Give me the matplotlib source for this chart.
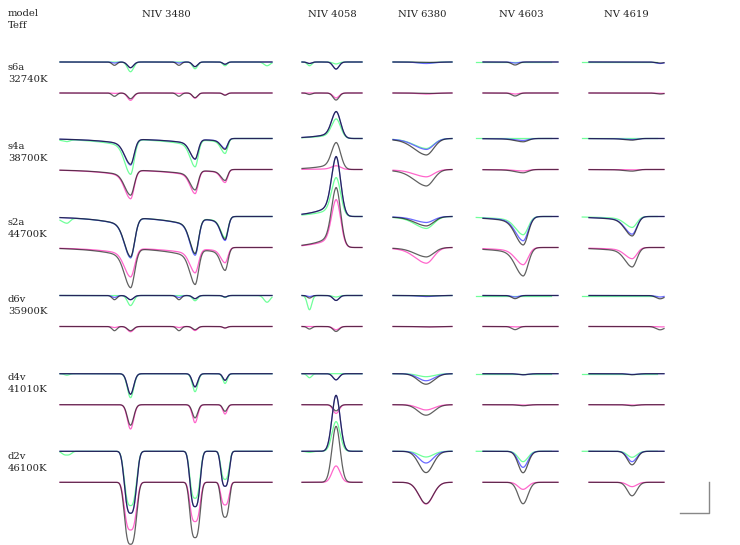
import numpy as np
import matplotlib
matplotlib.use("Agg")
import matplotlib.pyplot as plt

# ---------------- data ----------------
models = ['s6a', 's4a', 's2a', 'd6v', 'd4v', 'd2v']
teff = ['32740K', '38700K', '44700K', '35900K', '41010K', '46100K']
panel_titles = ['NIV 3480', 'NIV 4058', 'NIV 6380', 'NV 4603', 'NV 4619']

# wavelength windows (Angstrom)
win_3480 = (3474.00, 3488.13)
win_4058 = (4055.49, 4059.49)
win_6380 = (6378.55, 6382.48)
win_4603 = (4601.06, 4606.06)
win_4619 = (4617.10, 4622.10)

# line centres (Angstrom) and relative widths
lines_3480 = [3474.45, 3477.63, 3478.70, 3481.93, 3483.00, 3485.00, 3487.80]
wfac_3480 = [0.8, 0.8, 1.0, 0.8, 0.85, 0.7, 1.0]
lines_4058 = [4057.76, 4055.99]
wfac_4058 = [1.0, 0.75]
lines_6380 = [6380.75]
wfac_6380 = [1.0]
lines_4603 = [4603.20, 4603.73]
wfac_4603 = [0.75, 1.0]
lines_4619 = [4619.97, 4621.84]
wfac_4619 = [1.0, 0.9]

# line depths in % of continuum (negative = emission); one row per model
d3480_black = [[0, 2.2, 3.8, 2.2, 3.1, 1.5, 0],
               [0, 0, 16.7, 0, 13.0, 7.3, 0],
               [0, 0, 26.0, 0, 23.3, 15.3, 0],
               [0, 2.8, 2.8, 2.8, 2.1, 1.0, 0],
               [0, 0, 13.7, 0, 8.8, 4.4, 0],
               [0, 0, 41.3, 0, 36.9, 23.3, 0]]
d3480_green = [[0, 0, 6.5, 0, 4.5, 2.5, 2.5],
               [1.3, 0, 23.3, 0, 18.0, 10.0, 0],
               [3.6, 0, 26.7, 0, 24.0, 14.2, 0],
               [0, 0, 6.7, 0, 3.5, 1.3, 4.5],
               [1.0, 0, 16.0, 0, 12.0, 6.5, 0],
               [2.5, 0, 36.2, 0, 31.3, 18.7, 0]]
d3480_blue = [[0, 0.7, 3.8, 0.7, 3.1, 1.5, 0],
              [0, 0, 17.3, 0, 13.3, 6.7, 0],
              [0, 0, 26.7, 0, 24.4, 16.0, 0],
              [0, 1.3, 2.8, 1.3, 2.1, 1.0, 0],
              [0, 0, 13.7, 0, 8.8, 4.4, 0],
              [0, 0, 41.3, 0, 36.9, 23.3, 0]]
d3480_pink = [[0, 0.3, 4.9, 0.3, 3.5, 1.3, 0],
              [0, 0, 19.0, 0, 15.3, 8.7, 0],
              [0, 0, 19.1, 0, 16.0, 10.2, 0],
              [0, 0.7, 3.5, 0.7, 2.7, 1.0, 0],
              [0, 0, 16.2, 0, 12.0, 6.2, 0],
              [0, 0, 31.8, 0, 26.2, 15.1, 0]]

d4058_black = [[4.7, 1.0], [-18.0, 0], [-40.0, 0], [3.3, 1.7], [4.1, 0], [-37.3, 0]]
d4058_green = [[1.3, 2.5], [-13.1, 0], [-26.0, 0], [1.0, 9.5], [0, 2.7], [-19.8, 0.7]]
d4058_blue = [[4.7, 1.0], [-18.0, 0], [-40.0, 0], [3.3, 0.7], [4.1, 0], [-37.3, 0]]
d4058_pink = [[3.3, 0], [-2.5, 0], [-32.0, 0], [2.2, 0], [5.8, 0], [-10.9, 0]]

d6380_black = [[0.3], [11.0], [6.3], [0.3], [7.0], [14.2]]
d6380_green = [[0.7], [6.7], [8.0], [0.3], [2.0], [3.8]]
d6380_blue = [[1.0], [7.3], [4.0], [0.7], [4.7], [7.8]]
d6380_pink = [[0.7], [4.9], [10.5], [0.3], [3.5], [14.5]]

d4603_black = [[2.0, 0], [0, 2.2], [0, 19.0], [2.1, 0], [0, 0.7], [0, 14.3]]
d4603_green = [[0, 0], [0, 0], [0, 12.2], [0, 0], [0, 0], [0, 6.9]]
d4603_blue = [[0.7, 0], [0, 1.3], [0, 16.2], [1.0, 0], [0, 0.7], [0, 10.7]]
d4603_pink = [[0.7, 0], [0, 1.0], [0, 11.5], [0.3, 0], [0, 0.3], [0, 4.7]]

d4619_black = [[0, 0.7], [1.1, 0], [13.0, 0], [0, 2.2], [0.7, 0], [9.0, 0]]
d4619_green = [[0, 0], [0, 0], [7.3, 0], [0, 0], [0, 0], [4.0, 0]]
d4619_blue = [[0, 1.0], [0.7, 0], [11.8, 0], [0, 1.0], [0.5, 0], [6.9, 0]]
d4619_pink = [[0, 0.3], [0.3, 0], [7.5, 0], [0, 0.3], [0.3, 0], [2.9, 0]]

# line shape parameters
sig_3480 = [0.20, 0.24, 0.27, 0.20, 0.21, 0.38]
pow_3480 = [2, 2, 2, 2, 2, 3]
sig_4058 = [0.20, 0.30, 0.30, 0.20, 0.20, 0.27]
sig_6380 = [0.53, 0.50, 0.50, 0.53, 0.53, 0.47]
sig_4603 = [0.30, 0.33, 0.33, 0.30, 0.33, 0.32]
sig_4619 = [0.30, 0.31, 0.31, 0.30, 0.31, 0.31]
blue_asym = [1.0, 1.6, 1.5, 1.0, 1.0, 1.0]
wing_frac = [0, 0.25, 0.25, 0, 0, 0]

# ---------------- layout ----------------
W, H = 740, 545
S = 150.0                      # pixels per unit of normalised flux
panel_px = [(60, 272), (302, 362), (393, 452), (483, 558), (589, 664)]
title_x = [166, 332, 422, 521, 626]
top_px = [62, 138.5, 216.5, 295.5, 373.7, 451.3]
row_sep = 31
lab1_y = [69.5, 149.5, 225.5, 302.5, 380.5, 459]
lab2_y = [82, 161, 237.5, 313.5, 392.5, 471]

panels = [
    dict(win=win_3480, lines=lines_3480, wfac=wfac_3480, sig=sig_3480, pw=pow_3480,
         asym=True, wlen=2.0, gshift=0.0,
         black=d3480_black, green=d3480_green, blue=d3480_blue, pink=d3480_pink),
    dict(win=win_4058, lines=lines_4058, wfac=wfac_4058, sig=sig_4058, pw=[2] * 6,
         asym=False, wlen=1.2, gshift=0.0,
         black=d4058_black, green=d4058_green, blue=d4058_blue, pink=d4058_pink),
    dict(win=win_6380, lines=lines_6380, wfac=wfac_6380, sig=sig_6380, pw=[2] * 6,
         asym=True, wlen=1.8, gshift=0.0,
         black=d6380_black, green=d6380_green, blue=d6380_blue, pink=d6380_pink),
    dict(win=win_4603, lines=lines_4603, wfac=wfac_4603, sig=sig_4603, pw=[2] * 6,
         asym=True, wlen=2.0, gshift=-0.45,
         black=d4603_black, green=d4603_green, blue=d4603_blue, pink=d4603_pink),
    dict(win=win_4619, lines=lines_4619, wfac=wfac_4619, sig=sig_4619, pw=[2] * 6,
         asym=True, wlen=2.0, gshift=-0.45,
         black=d4619_black, green=d4619_green, blue=d4619_blue, pink=d4619_pink),
]

C_GREEN = '#70ff9a'
C_BLUE = '#6a6aff'
C_PINK = '#ff66cc'
C_BLACK = '#000000'
LW = 0.9


def profile(x, centres, depths, wfac, sig, pw, asym, wf, wlen):
    y = np.ones_like(x)
    for c, d, f in zip(centres, depths, wfac):
        if d == 0:
            continue
        s = sig * f
        sb = s * asym
        dx = x - c
        core = np.where(dx < 0, np.exp(-0.5 * np.abs(dx / sb) ** pw),
                        np.exp(-0.5 * np.abs(dx / s) ** pw))
        wing = np.where(dx < 0, np.exp(np.minimum(dx, 0) / wlen),
                        np.exp(-0.5 * (dx / s) ** 2))
        y = y - d / 100.0 * ((1 - wf) * core + wf * wing)
    return y


fig = plt.figure(figsize=(W / 100, H / 100), dpi=100)
fig.patch.set_facecolor('white')


def px_axes(x0, x1, yc, half=75):
    ax = fig.add_axes([x0 / W, 1 - (yc + half) / H, (x1 - x0) / W, 2 * half / H])
    ax.set_axis_off()
    ax.patch.set_visible(False)
    ax.set_ylim(1 - half / S, 1 + half / S)
    return ax


for pi, P in enumerate(panels):
    x0, x1 = panel_px[pi]
    wl0, wl1 = P['win']
    x = np.linspace(wl0, wl1, 600)
    xg = x + P['gshift']
    for mi in range(len(models)):
        asym = blue_asym[mi] if P['asym'] else 1.0
        kw = dict(wfac=P['wfac'], sig=P['sig'][mi], pw=P['pw'][mi], asym=asym,
                  wf=wing_frac[mi], wlen=P['wlen'])
        yk = profile(x, P['lines'], P['black'][mi], **kw)
        yg = profile(xg, P['lines'], P['green'][mi], **kw)
        yb = profile(x, P['lines'], P['blue'][mi], **kw)
        yp = profile(x, P['lines'], P['pink'][mi], **kw)

        # upper row: green / blue / black
        ax = px_axes(x0, x1, top_px[mi])
        ax.set_xlim(wl0, wl1)
        ax.plot(xg, yg, color=C_GREEN, lw=LW, clip_on=False)
        ax.plot(x, yb, color=C_BLUE, lw=LW, clip_on=False)
        ax.plot(x, yk, color=C_BLACK, lw=LW, alpha=0.65, clip_on=False)

        # lower row: pink / black
        ax = px_axes(x0, x1, top_px[mi] + row_sep)
        ax.set_xlim(wl0, wl1)
        ax.plot(x, yp, color=C_PINK, lw=LW, clip_on=False)
        ax.plot(x, yk, color=C_BLACK, lw=LW, alpha=0.62, clip_on=False)

# scale bar (2 A x 0.2 flux)
axs = fig.add_axes([680 / W, 1 - 513 / H, 29 / W, 31 / H])
axs.set_axis_off()
axs.patch.set_visible(False)
axs.set_xlim(0, 2)
axs.set_ylim(0, 0.2)
axs.plot([0, 2, 2], [0, 0, 0.2], color='#888888', lw=1.0, clip_on=False)

# texts
FONT = dict(family='DejaVu Serif', size=7.2, color='#222222')


def ftext(x, y, s, ha='left'):
    fig.text(x / W, 1 - y / H, s, ha=ha, va='baseline', **FONT)


ftext(8, 16.5, 'model')
ftext(8, 28.3, 'Teff')
for t, xc in zip(panel_titles, title_x):
    ftext(xc, 16.7, t, ha='center')
for mi, m in enumerate(models):
    ftext(8, lab1_y[mi], m)
    ftext(8, lab2_y[mi], teff[mi])

fig.savefig('out.png', dpi=100, facecolor='white')
